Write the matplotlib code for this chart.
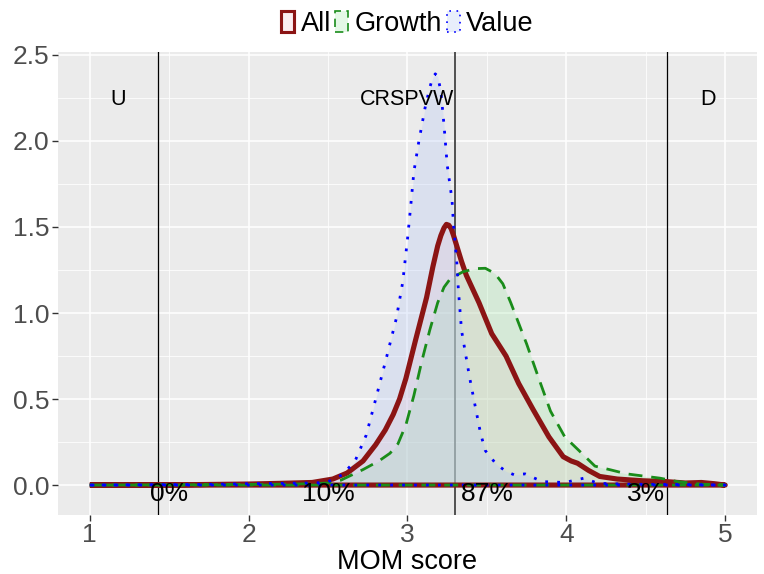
import numpy as np
import matplotlib
matplotlib.use('Agg')
from matplotlib import pyplot as plt
from matplotlib.patches import Patch
from matplotlib.colors import to_rgba

plt.rcParams['font.family'] = ['Liberation Sans', 'DejaVu Sans']

# density curves (MOM score vs density)
all_x = [1.0, 1.6, 2.0, 2.2, 2.4, 2.53, 2.62, 2.72, 2.80, 2.86, 2.91, 2.95, 2.99, 3.05,
         3.12, 3.16, 3.19, 3.21, 3.23, 3.245, 3.26, 3.275, 3.29, 3.31, 3.34, 3.37, 3.45,
         3.53, 3.62, 3.70, 3.79, 3.89, 3.98, 4.03, 4.07, 4.14, 4.21, 4.32, 4.48, 4.63,
         4.75, 4.85, 4.93, 5.0]
all_y = [0.0, 0.002, 0.006, 0.01, 0.015, 0.035, 0.07, 0.14, 0.235, 0.32, 0.41, 0.5, 0.62, 0.84,
         1.09, 1.27, 1.39, 1.45, 1.495, 1.515, 1.51, 1.49, 1.45, 1.39, 1.3, 1.22, 1.06,
         0.88, 0.75, 0.59, 0.44, 0.28, 0.165, 0.14, 0.127, 0.085, 0.05, 0.035, 0.025, 0.02,
         0.012, 0.015, 0.008, 0.0]

growth_x = [1.0, 1.8, 2.2, 2.4, 2.5, 2.58, 2.72, 2.82, 2.89, 2.94, 2.99, 3.04, 3.09, 3.14,
            3.19, 3.23, 3.27, 3.30, 3.35, 3.43, 3.49, 3.55, 3.60, 3.65, 3.70, 3.75, 3.83,
            3.90, 3.99, 4.08, 4.18, 4.28, 4.38, 4.48, 4.59, 4.70, 4.85, 5.0]
growth_y = [0.0, 0.002, 0.005, 0.008, 0.012, 0.028, 0.09, 0.14, 0.185, 0.24, 0.35, 0.52, 0.72, 0.9,
            1.06, 1.15, 1.2, 1.215, 1.24, 1.258, 1.26, 1.23, 1.17, 1.06, 0.94, 0.82, 0.61,
            0.43, 0.28, 0.2, 0.11, 0.088, 0.065, 0.053, 0.04, 0.02, 0.005, 0.0]

value_x = [1.0, 1.7, 2.0, 2.2, 2.4, 2.49, 2.59, 2.67, 2.74, 2.80, 2.87, 2.93, 2.97, 3.00,
           3.02, 3.04, 3.07, 3.11, 3.14, 3.16, 3.175, 3.19, 3.21, 3.23, 3.25, 3.28, 3.29,
           3.31, 3.32, 3.34, 3.39, 3.43, 3.46, 3.49, 3.56, 3.62, 3.67, 3.74, 3.80, 3.85,
           3.99, 4.11, 4.2, 4.4, 4.7, 5.0]
value_y = [0.0, 0.003, 0.008, 0.01, 0.012, 0.015, 0.06, 0.14, 0.29, 0.5, 0.75, 0.97, 1.18, 1.43,
           1.62, 1.82, 1.99, 2.19, 2.31, 2.37, 2.39, 2.375, 2.29, 2.09, 1.86, 1.66, 1.51,
           1.3, 1.14, 0.9, 0.63, 0.44, 0.3, 0.2, 0.12, 0.08, 0.06, 0.065, 0.04, 0.02,
           0.015, 0.04, 0.01, 0.005, 0.003, 0.0]

cutoffs = [1.43, 3.30, 4.635]
region_labels = ['U', 'CRSPVW', 'D']
region_x = [1.18, 3.0, 4.89]
share_labels = ['0%', '10%', '87%', '3%']
share_x = [1.5, 2.5, 3.5, 4.5]

series = [
    ('All', all_x, all_y, '#8B1414', (0, ()), 3.7, '#F2C4D0', 0.3),
    ('Growth', growth_x, growth_y, '#1A8C1A', (0, (5, 3.2)), 2.0, '#9EE6A6', 0.28),
    ('Value', value_x, value_y, '#0000FF', (0, (1, 3.3)), 2.0, '#B4C8F5', 0.3),
]

fig = plt.figure(figsize=(7.64, 5.74), dpi=100)
ax = fig.add_axes([58 / 764, 1 - 515 / 574, 699 / 764, 463 / 574])
ax.set_facecolor('#EBEBEB')
for s in ax.spines.values():
    s.set_visible(False)

ax.set_xlim(0.8, 5.2)
ax.set_ylim(-0.174, 2.517)
ax.set_xticks([1, 2, 3, 4, 5])
ax.set_yticks([0.0, 0.5, 1.0, 1.5, 2.0, 2.5])
ax.set_yticklabels(['0.0', '0.5', '1.0', '1.5', '2.0', '2.5'])
ax.set_xticks([1.5, 2.5, 3.5, 4.5], minor=True)
ax.set_yticks([0.25, 0.75, 1.25, 1.75, 2.25], minor=True)
ax.grid(which='major', color='white', lw=1.1)
ax.grid(which='minor', color='white', lw=0.55)
ax.set_axisbelow(True)
ax.tick_params(which='major', length=4, width=1, color='#333333',
               labelsize=19, labelcolor='#4D4D4D', pad=2)
ax.tick_params(which='minor', length=0)

for c in cutoffs:
    if c == 3.30:
        ax.axvline(c, color='#444444', lw=1.3, zorder=1)
    else:
        ax.axvline(c, color='black', lw=0.9, zorder=1)

handles = []
for name, xs, ys, lc, ls, lw, fc, fa in series:
    ax.fill_between(xs, ys, 0, color=fc, alpha=fa, lw=0, zorder=2)
    ax.plot(list(xs) + [xs[0]], list(ys) + [0.0], color=lc, linestyle=ls, lw=lw,
            solid_capstyle='round', solid_joinstyle='round', dash_capstyle='butt', zorder=3)
    handles.append(Patch(facecolor=to_rgba(fc, fa), edgecolor=lc, linestyle=ls,
                         linewidth=lw * 0.6, label=name))

for lab, xx in zip(region_labels, region_x):
    ax.text(xx, 2.24, lab, ha='center', va='center', fontsize=15.5, color='black')
for lab, xx in zip(share_labels, share_x):
    ax.text(xx, -0.052, lab, ha='center', va='center', fontsize=19, color='black', zorder=5)

ax.set_xlabel('MOM score', fontsize=19.5, color='black', labelpad=1)

leg = ax.legend(handles=handles, loc='lower center', bbox_to_anchor=(0.5, 1.024),
                ncol=3, frameon=False, fontsize=19.5, handlelength=0.48,
                handleheight=0.85, handletextpad=0.25, columnspacing=0.15,
                borderaxespad=0.05, borderpad=0.1)

fig.savefig('out.png', dpi=100)
